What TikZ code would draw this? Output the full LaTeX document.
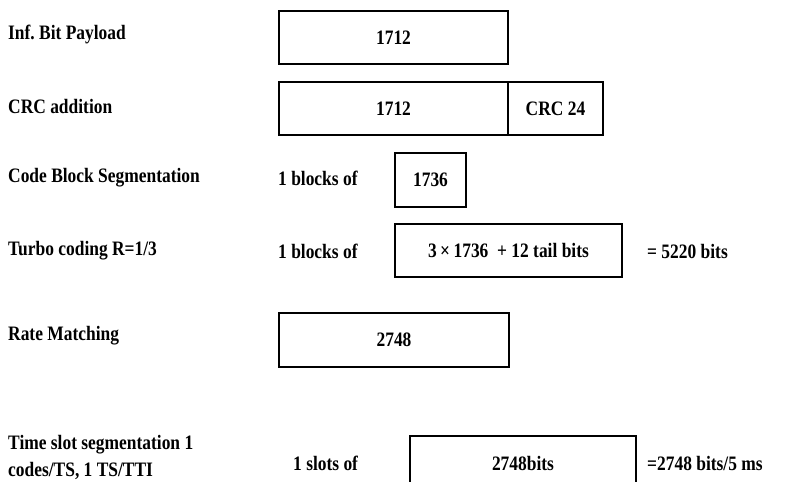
\documentclass[tikz,border=0pt]{standalone}
\usepackage{fontspec}
\setmainfont{Liberation Serif}[FakeStretch=0.85]
\usepackage{tikz}
\frenchspacing

\tikzset{
  lbl/.style={anchor=west, font=\fontsize{20.5}{27}\selectfont\bfseries, inner sep=0pt},
  blk/.style={draw, line width=1.3pt, font=\fontsize{20.5}{27}\selectfont\bfseries, inner sep=0pt}
}

\begin{document}
\begin{tikzpicture}[x=1pt, y=-1pt]
\useasboundingbox (0,0) rectangle (788,482);

% Stage labels
\node[lbl] (pay) at (8,34) {Inf. Bit Payload};
\node[lbl] (crc) at (8,106) {CRC addition};
\node[lbl] (seg) at (8,178) {Code Block Segmentation};
\node[lbl] (tur) at (8,251) {Turbo coding R=1/3};
\node[lbl] (rm) at (8,336) {Rate Matching};
\node[lbl, align=left] (ts) at (8,457) {Time slot segmentation 1\\codes/TS, 1 TS/TTI};

% Blocks
\node[blk, minimum width=229pt, minimum height=53pt] (b1) at (393.5,37.5) {1712};
\node[blk, minimum width=229pt, minimum height=53pt] (b2) at (393.5,108.5) {1712};
\node[blk, minimum width=95pt, minimum height=53pt] (b2c) at (555.5,108.5) {CRC 24};
\node[blk, minimum width=71pt, minimum height=54pt] (b3) at (430.5,180) {1736};
\node[blk, minimum width=227pt, minimum height=53pt] (b4) at (508.5,250.5) {3\,×\,1736~ + 12 tail bits};
\node[blk, minimum width=230pt, minimum height=54pt] (b5) at (394,340) {2748};
\draw[line width=1.3pt] (410,492) -- (410,436) -- (636,436) -- (636,492);
\node[lbl, anchor=center] (b6) at (523,463) {2748bits};

% Counts and totals
\node[lbl] (n3) at (278,178) {1 blocks of};
\node[lbl] (n4) at (278,251) {1 blocks of};
\node[lbl] (n6) at (293,463) {1 slots of};
\node[lbl] (t4) at (647,251) {= 5220 bits};
\node[lbl] (t6) at (647,463) {=2748 bits/5 ms};
\end{tikzpicture}
\end{document}
